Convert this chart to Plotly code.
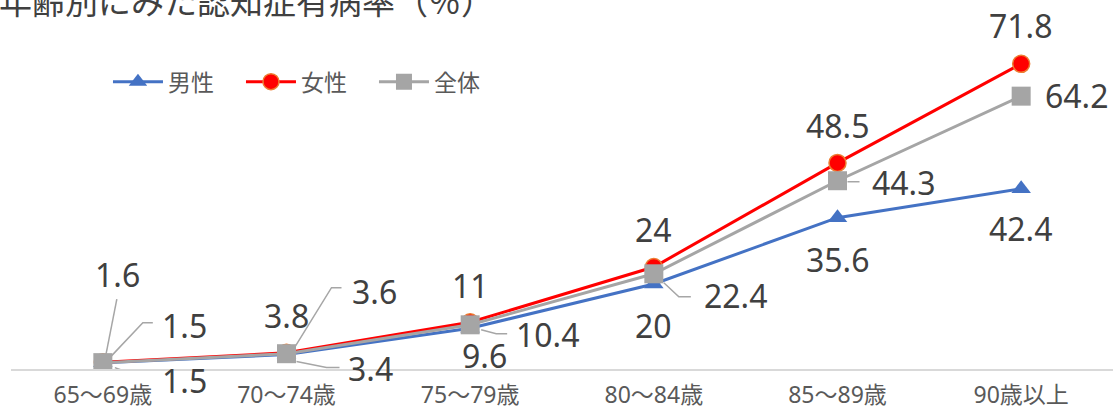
import plotly.graph_objects as go

categories = ["65～69歳", "70～74歳", "75～79歳", "80～84歳", "85～89歳", "90歳以上"]
male = [1.5, 3.4, 9.6, 20, 35.6, 42.4]
female = [1.6, 3.8, 11, 24, 48.5, 71.8]
total = [1.5, 3.6, 10.4, 22.4, 44.3, 64.2]
title_text = "年齢別にみた認知症有病率（％）"

# label offsets in screen px (dx right, dy down) per point
male_off = [(82, 18), (84, 14), (14, 27), (0, 41), (0, 42), (0, 40)]
female_off = [(15, -88), (0, -37), (0, -37), (0, -38), (0, -37), (0, -38)]
total_off = [(82, -37), (88, -62), (78, 10), (82, 22), (66, 2), (56, -1)]

# leader lines (screen px offsets from point), None = no leader
male_lead = [[(12, 5), (40, 15), (50, 15)], [(10, 7), (40, 13), (53, 13)], None, None, None, None]
female_lead = [[(3, -7), (14, -63)], None, None, None, None, None]
total_lead = [[(7, -5), (40, -40), (50, -40)], [(8, -6), (45, -66), (55, -66)],
              [(11, 5), (26, 9), (37, 9)], [(10, 9), (25, 23), (37, 23)],
              [(10, 1), (22, 1)], None]

BLUE = "#4472C4"
RED = "#FF0000"
GRAY = "#A5A5A5"

fig = go.Figure()
fig.add_trace(go.Scatter(x=categories, y=male, name="男性", mode="lines+markers",
                         line=dict(color=BLUE, width=3),
                         marker=dict(symbol="triangle-up", size=17, color=BLUE)))
fig.add_trace(go.Scatter(x=categories, y=female, name="女性", mode="lines+markers",
                         line=dict(color=RED, width=3),
                         marker=dict(symbol="circle", size=17, color=RED,
                                     line=dict(color="#ED7D31", width=1.5))))
fig.add_trace(go.Scatter(x=categories, y=total, name="全体", mode="lines+markers",
                         line=dict(color=GRAY, width=3),
                         marker=dict(symbol="square", size=19, color=GRAY)))

annotations = []
shapes = []
LABEL_FONT = dict(family="Noto Sans, Noto Sans CJK JP", size=32, color="#404040")
for series, offs, leads in [(male, male_off, male_lead), (female, female_off, female_lead),
                            (total, total_off, total_lead)]:
    for i, v in enumerate(series):
        dx, dy = offs[i]
        annotations.append(dict(x=i, y=v, xref="x", yref="y", text=f"{v:g}",
                                showarrow=False, xanchor="center", yanchor="middle",
                                xshift=dx, yshift=-dy, font=LABEL_FONT))
        if leads[i]:
            pts = leads[i]
            path = "M " + " L ".join(f"{px},{-py}" for px, py in pts)
            shapes.append(dict(type="path", xref="x", yref="y",
                               xsizemode="pixel", ysizemode="pixel",
                               xanchor=i, yanchor=v, path=path,
                               line=dict(color="#A6A6A6", width=1.5), layer="below"))

annotations.append(dict(x=-0.013, y=1.086, xref="paper", yref="paper", text=title_text,
                        showarrow=False, xanchor="left", yanchor="middle",
                        font=dict(family="Noto Sans CJK JP", size=33, color="#404040")))

fig.update_layout(
    width=1115, height=412,
    margin=dict(l=11, r=2, t=29, b=43, autoexpand=False),
    paper_bgcolor="white", plot_bgcolor="white",
    showlegend=True,
    legend=dict(orientation="h", x=0.088, y=0.845, xanchor="left", yanchor="middle",
                font=dict(family="Noto Sans CJK JP", size=23, color="#595959"),
                bgcolor="rgba(0,0,0,0)", itemwidth=50, entrywidth=68),
    xaxis=dict(type="category", range=[-0.5, 5.5], showline=True, linecolor="#D9D9D9",
               linewidth=1.5, showgrid=False, ticks="", zeroline=False, automargin=False,
               tickfont=dict(family="Noto Sans, Noto Sans CJK JP", size=23, color="#595959"),
               ticklabelstandoff=5),
    yaxis=dict(range=[0, 80], visible=False, showgrid=False, zeroline=False, automargin=False),
    annotations=annotations,
    shapes=shapes,
)

fig.write_html("out.html")
